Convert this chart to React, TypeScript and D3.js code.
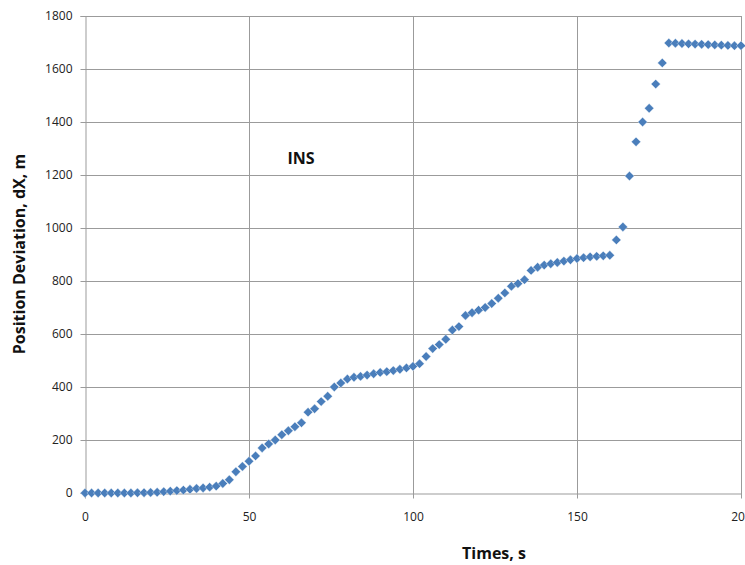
import React, { useRef, useEffect } from 'react';
import * as d3 from 'd3';

const times = [
  0, 2, 4, 6, 8, 10, 12, 14, 16, 18, 20, 22, 24, 26, 28, 30, 32, 34, 36, 38,
  40, 42, 44, 46, 48, 50, 52, 54, 56, 58, 60, 62, 64, 66, 68, 70, 72, 74, 76, 78,
  80, 82, 84, 86, 88, 90, 92, 94, 96, 98, 100, 102, 104, 106, 108, 110, 112, 114, 116, 118,
  120, 122, 124, 126, 128, 130, 132, 134, 136, 138, 140, 142, 144, 146, 148, 150, 152, 154, 156, 158,
  160, 162, 164, 166, 168, 170, 172, 174, 176, 178, 180, 182, 184, 186, 188, 190, 192, 194, 196, 198, 200,
];

const dxValues = [
  0, 0, 0, 0, 0, 0, 0, 0, 1, 1, 2, 3, 5, 7, 9, 11, 14, 17, 19, 22,
  26, 36, 50, 80, 100, 120, 140, 170, 185, 200, 220, 235, 250, 265, 305, 318, 345, 365, 400, 415,
  430, 437, 440, 445, 450, 455, 458, 462, 467, 472, 478, 488, 515, 545, 560, 580, 615, 628, 670, 680,
  690, 700, 715, 735, 755, 780, 790, 805, 840, 852, 860, 865, 870, 875, 880, 885, 888, 891, 893, 895,
  897, 955, 1004, 1196, 1325, 1400, 1452, 1543, 1623, 1698, 1697, 1696, 1695, 1694, 1693, 1692, 1691, 1690, 1689, 1688, 1688,
];

const xTicks = [0, 50, 100, 150, 200];
const yTicks = [0, 200, 400, 600, 800, 1000, 1200, 1400, 1600, 1800];

const WIDTH = 745;
const HEIGHT = 565;
const margin = { top: 16, right: 4, bottom: 72, left: 85 };

const App = () => {
  const svgRef = useRef<SVGSVGElement>(null);

  useEffect(() => {
    const svg = d3.select(svgRef.current);
    svg.selectAll('*').remove();

    const x = d3.scaleLinear().domain([0, 200]).range([margin.left, WIDTH - margin.right]);
    const y = d3.scaleLinear().domain([0, 1800]).range([HEIGHT - margin.bottom, margin.top]);

    const font = '"Open Sans", "Liberation Sans", sans-serif';
    const grid = '#9b9b9b';

    // horizontal grid
    svg.append('g')
      .selectAll('line')
      .data(yTicks.slice(1))
      .join('line')
      .attr('x1', x(0))
      .attr('x2', x(200))
      .attr('y1', d => Math.round(y(d)) + 0.5)
      .attr('y2', d => Math.round(y(d)) + 0.5)
      .attr('stroke', grid);

    // vertical grid
    svg.append('g')
      .selectAll('line')
      .data(xTicks.slice(1))
      .join('line')
      .attr('x1', d => Math.round(x(d)) + 0.5)
      .attr('x2', d => Math.round(x(d)) + 0.5)
      .attr('y1', y(1800))
      .attr('y2', y(0) + 5)
      .attr('stroke', grid);

    // y axis
    const yAxis = svg.append('g')
      .attr('transform', `translate(${Math.round(x(0)) + 0.5},0)`)
      .call(d3.axisLeft(y).tickValues(yTicks).tickSize(5).tickPadding(8).tickFormat(d3.format('d')));
    yAxis.select('.domain').attr('stroke', grid);
    yAxis.selectAll('.tick line').attr('stroke', grid);
    yAxis.selectAll('.tick text').attr('font-family', font).attr('font-size', 12).attr('fill', '#222');

    // x axis
    const xAxis = svg.append('g')
      .attr('transform', `translate(0,${Math.round(y(0)) + 0.5})`)
      .call(d3.axisBottom(x).tickValues(xTicks).tickSize(5).tickSizeOuter(0).tickPadding(14).tickFormat(d3.format('d')));
    xAxis.select('.domain').attr('stroke', grid);
    xAxis.selectAll('.tick line').attr('stroke', grid);
    xAxis.selectAll('.tick text').attr('font-family', font).attr('font-size', 12).attr('fill', '#222');

    // markers
    const pts = times.map((t, i) => ({ t, v: dxValues[i] }));
    const diamond = d3.symbol().type(d3.symbolSquare).size(44);
    svg.append('g')
      .selectAll('path')
      .data(pts)
      .join('path')
      .attr('d', diamond)
      .attr('transform', d => `translate(${x(d.t)},${y(d.v)}) rotate(45)`)
      .attr('fill', '#4a7ebb')
      .attr('stroke', '#ffffff')
      .attr('stroke-opacity', 0.6)
      .attr('stroke-width', 0.6);

    // labels
    svg.append('text')
      .attr('x', 301)
      .attr('y', 164)
      .attr('text-anchor', 'middle')
      .attr('font-family', font)
      .attr('font-weight', 'bold')
      .attr('font-size', 16)
      .attr('fill', '#111')
      .text('INS');

    svg.append('text')
      .attr('x', 494)
      .attr('y', 559)
      .attr('text-anchor', 'middle')
      .attr('font-family', font)
      .attr('font-weight', 'bold')
      .attr('font-size', 16)
      .attr('fill', '#111')
      .text('Times, s');

    svg.append('text')
      .attr('transform', 'translate(25,254) rotate(-90)')
      .attr('text-anchor', 'middle')
      .attr('font-family', font)
      .attr('font-weight', 'bold')
      .attr('font-size', 16)
      .attr('fill', '#111')
      .text('Position Deviation, dX, m');
  }, []);

  return (
    <div style={{ position: 'absolute', left: 0, top: 0, width: WIDTH, height: HEIGHT, overflow: 'hidden', background: '#fff' }}>
      <svg ref={svgRef} width={WIDTH} height={HEIGHT} style={{ display: 'block' }} />
    </div>
  );
};

export default App;
